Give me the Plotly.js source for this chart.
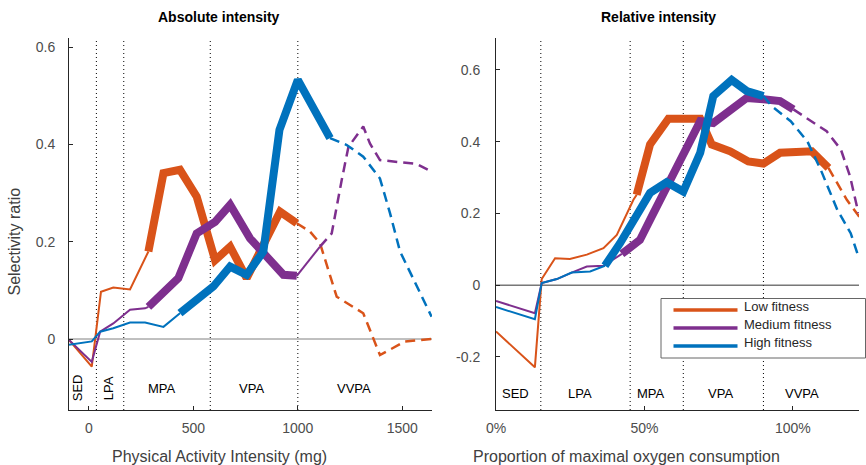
<!DOCTYPE html>
<html>
<head>
<meta charset="utf-8">
<script src="https://cdn.plot.ly/plotly-3.0.1.min.js"></script>
<style>html,body{margin:0;padding:0;background:#fff;}#chart{width:866px;height:465px;}</style>
</head>
<body>
<div id="chart"></div>
<script>
// ---------- Absolute intensity (mg) ----------
const absLowThinX  = [-95, 14, 58, 117, 197, 285];
const absLowThinY  = [-0.002, -0.057, 0.097, 0.106, 0.102, 0.18];
const absLowThickX = [285, 357, 436, 516, 604, 676, 755, 915, 995];
const absLowThickY = [0.18, 0.341, 0.348, 0.293, 0.162, 0.19, 0.125, 0.262, 0.238];
const absLowDashX  = [995, 1058, 1106, 1186, 1313, 1393, 1513, 1640];
const absLowDashY  = [0.238, 0.221, 0.197, 0.087, 0.053, -0.033, -0.005, 0.0];

const absMedThinX  = [-95, 14, 54, 117, 197, 269, 285];
const absMedThinY  = [-0.002, -0.047, 0.015, 0.032, 0.06, 0.063, 0.066];
const absMedThickX = [285, 428, 516, 604, 676, 771, 931, 995];
const absMedThickY = [0.066, 0.125, 0.217, 0.241, 0.276, 0.207, 0.132, 0.130];
const absMedThin2X = [995, 1106];
const absMedThin2Y = [0.130, 0.19];
const absMedDashX  = [1106, 1162, 1210, 1242, 1313, 1345, 1393, 1569, 1640];
const absMedDashY  = [0.19, 0.217, 0.327, 0.395, 0.437, 0.402, 0.368, 0.360, 0.344];

const absHighThinX  = [-95, 14, 54, 117, 197, 269, 357, 436];
const absHighThinY  = [-0.012, -0.005, 0.015, 0.022, 0.034, 0.034, 0.025, 0.053];
const absHighThickX = [436, 596, 676, 755, 835, 912, 1000, 1154];
const absHighThickY = [0.053, 0.108, 0.149, 0.132, 0.18, 0.43, 0.533, 0.413];
const absHighDashX  = [1154, 1234, 1313, 1393, 1441, 1489, 1640];
const absHighDashY  = [0.413, 0.399, 0.375, 0.33, 0.259, 0.18, 0.046];

// ---------- Relative intensity (% VO2max) ----------
const relLowThinX  = [0, 13.1, 15.4, 19.9, 24.9, 30.6, 36.2, 40.7, 46.3, 47.4];
const relLowThinY  = [-0.129, -0.229, 0.017, 0.075, 0.073, 0.085, 0.103, 0.14, 0.238, 0.252];
const relLowThickX = [47.4, 51.9, 58.1, 68.8, 72.7, 78.9, 85.0, 90.1, 95.7, 106.4, 112];
const relLowThickY = [0.252, 0.392, 0.464, 0.464, 0.392, 0.373, 0.345, 0.339, 0.369, 0.373, 0.327];
const relLowDashX  = [112, 114.3, 118.2, 122.7];
const relLowDashY  = [0.327, 0.294, 0.238, 0.187];

const relMedThinX  = [0, 13.1, 15.4, 20.5, 25.5, 30.6, 36.2, 42.4];
const relMedThinY  = [-0.044, -0.078, 0.006, 0.017, 0.035, 0.052, 0.054, 0.087];
const relMedThickX = [42.4, 48.5, 53, 58.6, 64.3, 68.8, 73.2, 84.5, 90.1, 95.7, 100.2];
const relMedThickY = [0.087, 0.126, 0.2, 0.294, 0.383, 0.457, 0.452, 0.522, 0.518, 0.513, 0.49];
const relMedDashX  = [100.2, 104.7, 111.4, 116.2, 119.3, 122.1];
const relMedDashY  = [0.49, 0.466, 0.429, 0.378, 0.303, 0.201];

const relHighThinX  = [0, 13.1, 15.4, 20.5, 25.5, 31.7, 36.7];
const relHighThinY  = [-0.061, -0.095, 0.006, 0.017, 0.035, 0.038, 0.054];
const relHighThickX = [36.7, 41.8, 51.9, 57.5, 63.1, 68.8, 73.2, 79.4, 84.5, 90.1];
const relHighThickY = [0.054, 0.117, 0.257, 0.287, 0.261, 0.369, 0.527, 0.572, 0.541, 0.527];
const relHighDashX  = [90.1, 92.9, 99.3, 104.9, 109.4, 115.0, 119.5, 122.1];
const relHighDashY  = [0.527, 0.499, 0.457, 0.401, 0.322, 0.21, 0.145, 0.08];

// ---------- Categories / labels ----------
const seriesNames = ['Low fitness', 'Medium fitness', 'High fitness'];
const seriesColors = ['#D95319', '#7E2F8E', '#0072BD'];
const absCutpoints = [36, 167, 581, 1000];
const relCutpoints = [15.1, 45.2, 63.1, 90.1];
const zoneNames = ['SED', 'LPA', 'MPA', 'VPA', 'VVPA'];
const absZoneX = [-56, 92, 350, 776, 1269];
const relZoneX = [6.4, 28.3, 52.2, 75.5, 103];
const absTickVals = [0, 500, 1000, 1500];
const absTickText = ['0', '500', '1000', '1500'];
const relTickVals = [0, 50, 100];
const relTickText = ['0%', '50%', '100%'];

const W = 866, H = 465;
const px = v => v / W, py = v => 1 - v / H;
const FONT = 'Liberation Sans, Arial, Helvetica, sans-serif';

const THIN = 2, THICK = 8, DASHW = 2.5, DASH = '10px,6px';
function seg(x, y, color, width, dash, xa, ya, name) {
  return {x: x, y: y, type: 'scatter', mode: 'lines', name: name, showlegend: false,
    hoverinfo: 'skip', xaxis: xa, yaxis: ya,
    line: {color: color, width: width, dash: dash || 'solid'}};
}
const traces = [];
const absSets = [
  [absLowThinX, absLowThinY, absLowThickX, absLowThickY, absLowDashX, absLowDashY],
  [absMedThinX, absMedThinY, absMedThickX, absMedThickY, absMedDashX, absMedDashY],
  [absHighThinX, absHighThinY, absHighThickX, absHighThickY, absHighDashX, absHighDashY]
];
const relSets = [
  [relLowThinX, relLowThinY, relLowThickX, relLowThickY, relLowDashX, relLowDashY],
  [relMedThinX, relMedThinY, relMedThickX, relMedThickY, relMedDashX, relMedDashY],
  [relHighThinX, relHighThinY, relHighThickX, relHighThickY, relHighDashX, relHighDashY]
];
for (let i = 0; i < 3; i++) {
  const c = seriesColors[i], n = seriesNames[i], a = absSets[i], r = relSets[i];
  traces.push(seg(a[4], a[5], c, DASHW, DASH, 'x', 'y', n));
  traces.push(seg(a[0], a[1], c, THIN, null, 'x', 'y', n));
  if (i === 1) traces.push(seg(absMedThin2X, absMedThin2Y, c, THIN, null, 'x', 'y', n));
  traces.push(seg(a[2], a[3], c, THICK, null, 'x', 'y', n));
  traces.push(seg(r[4], r[5], c, DASHW, DASH, 'x2', 'y2', n));
  traces.push(seg(r[0], r[1], c, THIN, null, 'x2', 'y2', n));
  traces.push(seg(r[2], r[3], c, THICK, null, 'x2', 'y2', n));
}

const shapes = [];
absCutpoints.forEach(v => shapes.push({type: 'line', xref: 'x', yref: 'y domain', x0: v, x1: v, y0: 0, y1: 1,
  layer: 'below', line: {color: '#000', width: 1, dash: '1px,3px'}}));
relCutpoints.forEach(v => shapes.push({type: 'line', xref: 'x2', yref: 'y2 domain', x0: v, x1: v, y0: 0, y1: 1,
  layer: 'below', line: {color: '#000', width: 1, dash: '1px,3px'}}));
shapes.push({type: 'line', xref: 'x domain', yref: 'y', x0: 0, x1: 1, y0: 0, y1: 0, layer: 'below',
  line: {color: '#808080', width: 1}});
shapes.push({type: 'line', xref: 'x2 domain', yref: 'y2', x0: 0, x1: 1, y0: 0, y1: 0, layer: 'below',
  line: {color: '#333333', width: 1}});
// legend box
shapes.push({type: 'rect', xref: 'paper', yref: 'paper', x0: px(661), x1: px(865.5), y0: py(298.5), y1: py(358),
  layer: 'above', fillcolor: '#ffffff', line: {color: '#666666', width: 1}});
const legRows = [310, 328, 346];
for (let i = 0; i < 3; i++) {
  shapes.push({type: 'line', xref: 'paper', yref: 'paper', x0: px(673.5), x1: px(737.5), y0: py(legRows[i]), y1: py(legRows[i]),
    layer: 'above', line: {color: seriesColors[i], width: 3.3}});
}

const annotations = [];
function ann(text, x, y, xref, yref, opts) {
  annotations.push(Object.assign({text: text, x: x, y: y, xref: xref, yref: yref, showarrow: false,
    xanchor: 'center', yanchor: 'middle',
    font: {family: FONT, size: 13, color: '#000'}}, opts || {}));
}
zoneNames.forEach((z, i) => {
  ann(z, absZoneX[i], -0.101, 'x', 'y', i < 2 ? {textangle: -90} : {});
  ann(z, relZoneX[i], -0.302, 'x2', 'y2', {});
});
ann('<b>Absolute intensity</b>', px(219), py(17), 'paper', 'paper', {font: {family: FONT, size: 14, color: '#000'}});
ann('<b>Relative intensity</b>', px(658.5), py(17), 'paper', 'paper', {font: {family: FONT, size: 14, color: '#000'}});
ann('Selectivity ratio', px(14.5), py(242), 'paper', 'paper', {textangle: -90, font: {family: FONT, size: 16, color: '#404040'}});
ann('Physical Activity Intensity (mg)', px(219.5), py(456), 'paper', 'paper', {font: {family: FONT, size: 16, color: '#404040'}});
ann('Proportion of maximal oxygen consumption', px(626), py(456), 'paper', 'paper', {font: {family: FONT, size: 16, color: '#404040'}});
seriesNames.forEach((n, i) => ann(n, px(741.5), py(legRows[i] - 4), 'paper', 'paper',
  {xanchor: 'left', font: {family: FONT, size: 13, color: '#262626'}}));

const axBase = {showline: true, linecolor: '#262626', linewidth: 1, ticks: 'inside', ticklen: 4,
  tickcolor: '#262626', showgrid: false, zeroline: false, fixedrange: true,
  tickfont: {family: FONT, size: 14, color: '#4d4d4d'}};
const yDom = [55 / H, 427 / H];
const layout = {
  width: W, height: H, margin: {l: 0, r: 0, t: 0, b: 0}, paper_bgcolor: '#fff', plot_bgcolor: '#fff',
  showlegend: false,
  xaxis: Object.assign({}, axBase, {domain: [69 / W, 432 / W], range: [-95, 1642], anchor: 'y',
    tickmode: 'array', tickvals: absTickVals, ticktext: absTickText, ticklabelstandoff: 5}),
  yaxis: Object.assign({}, axBase, {domain: yDom, range: [-0.146, 0.619], anchor: 'x',
    tickmode: 'array', tickvals: [0, 0.2, 0.4, 0.6], ticktext: ['0', '0.2', '0.4', '0.6'], ticklabelstandoff: 10}),
  xaxis2: Object.assign({}, axBase, {domain: [496 / W, 859 / W], range: [0, 122.3], anchor: 'y2',
    tickmode: 'array', tickvals: relTickVals, ticktext: relTickText, ticklabelstandoff: 5}),
  yaxis2: Object.assign({}, axBase, {domain: yDom, range: [-0.348, 0.689], anchor: 'x2',
    tickmode: 'array', tickvals: [-0.2, 0, 0.2, 0.4, 0.6], ticktext: ['-0.2', '0', '0.2', '0.4', '0.6'], ticklabelstandoff: 12}),
  shapes: shapes, annotations: annotations
};
Plotly.newPlot('chart', traces, layout, {displayModeBar: false, staticPlot: true});
</script>
</body>
</html>
